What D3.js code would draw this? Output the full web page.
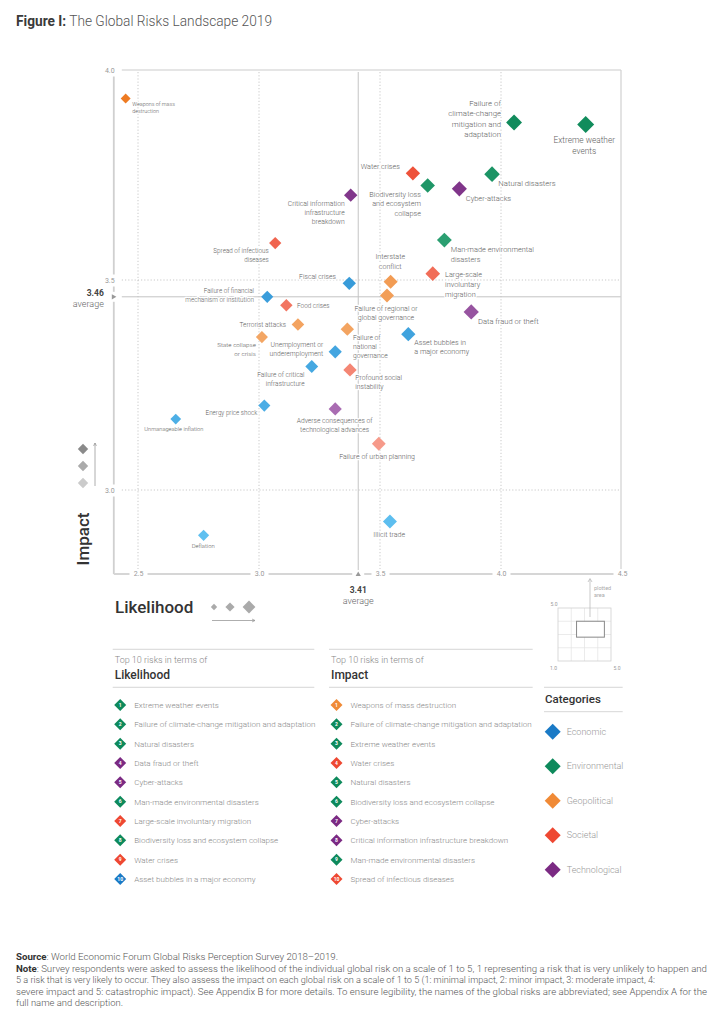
<!DOCTYPE html>
<html><head><meta charset="utf-8">
<script src="https://cdn.jsdelivr.net/npm/d3@7"></script>
<style>
body{margin:0;background:#fff;}
svg{display:block;font-family:Roboto,"Liberation Sans",Arial,sans-serif;}
</style></head><body>
<svg id="c" width="721" height="1024"></svg>
<script>
// ---------------- DATA ----------------
const risks = [
 "Weapons of mass destruction","Critical information infrastructure breakdown","Spread of infectious diseases",
 "Failure of climate-change mitigation and adaptation","Extreme weather events","Water crises",
 "Biodiversity loss and ecosystem collapse","Natural disasters","Cyber-attacks","Man-made environmental disasters",
 "Fiscal crises","Failure of financial mechanism or institution","Food crises","Terrorist attacks",
 "State collapse or crisis","Unemployment or underemployment","Failure of critical infrastructure",
 "Profound social instability","Energy price shock","Adverse consequences of technological advances",
 "Unmanageable inflation","Interstate conflict","Large-scale involuntary migration",
 "Failure of regional or global governance","Data fraud or theft","Failure of national governance",
 "Asset bubbles in a major economy","Failure of urban planning","Illicit trade","Deflation"];
const riskCategory = [
 "Geopolitical","Technological","Societal","Environmental","Environmental","Societal",
 "Environmental","Environmental","Technological","Environmental",
 "Economic","Economic","Societal","Geopolitical","Geopolitical","Economic","Economic",
 "Societal","Economic","Technological","Economic","Geopolitical","Societal",
 "Geopolitical","Technological","Geopolitical","Economic","Societal","Economic","Economic"];
const likelihood = [2.449,3.379,3.067,4.054,4.350,3.636,3.697,3.963,3.828,3.766,
 3.373,3.034,3.113,3.161,3.012,3.315,3.218,3.376,3.022,3.315,
 2.656,3.544,3.718,3.529,3.877,3.365,3.617,3.495,3.541,2.771];
const impact = [3.932,3.702,3.588,3.875,3.870,3.754,3.725,3.752,3.717,3.595,
 3.492,3.460,3.440,3.394,3.364,3.329,3.294,3.286,3.201,3.193,
 3.169,3.496,3.515,3.463,3.424,3.383,3.371,3.110,2.925,2.892];
const averageLikelihood = 3.41;
const averageImpact = 3.46;
const xTicks = [2.5,3.0,3.5,4.0,4.5];
const yTicks = [3.0,3.5,4.0];
const categoryNames = ["Economic","Environmental","Geopolitical","Societal","Technological"];
const top10Likelihood = ["Extreme weather events","Failure of climate-change mitigation and adaptation","Natural disasters",
 "Data fraud or theft","Cyber-attacks","Man-made environmental disasters","Large-scale involuntary migration",
 "Biodiversity loss and ecosystem collapse","Water crises","Asset bubbles in a major economy"];
const top10Impact = ["Weapons of mass destruction","Failure of climate-change mitigation and adaptation","Extreme weather events",
 "Water crises","Natural disasters","Biodiversity loss and ecosystem collapse","Cyber-attacks",
 "Critical information infrastructure breakdown","Man-made environmental disasters","Spread of infectious diseases"];

// ---------------- LABEL LAYOUT (placement only) ----------------
const labelLayout = {
 "Weapons of mass destruction":{l:["Weapons of mass","destruction"],a:"start",dx:6.6,dy:7.5},
 "Critical information infrastructure breakdown":{l:["Critical information","infrastructure","breakdown"],a:"end",dx:-6,dy:11},
 "Spread of infectious diseases":{l:["Spread of infectious","diseases"],a:"end",dx:-6.5,dy:10},
 "Failure of climate-change mitigation and adaptation":{l:["Failure of","climate-change","mitigation and","adaptation"],a:"end",dx:-13,dy:-16.7},
 "Extreme weather events":{l:["Extreme weather","events"],a:"middle",dx:-1.4,dy:18},
 "Water crises":{l:["Water crises"],a:"end",dx:-13,dy:-4.6},
 "Biodiversity loss and ecosystem collapse":{l:["Biodiversity loss","and ecosystem","collapse"],a:"end",dx:-6.7,dy:11},
 "Natural disasters":{l:["Natural disasters"],a:"start",dx:6.3,dy:12},
 "Cyber-attacks":{l:["Cyber-attacks"],a:"start",dx:6.4,dy:11.7},
 "Man-made environmental disasters":{l:["Man-made environmental","disasters"],a:"start",dx:6.4,dy:12},
 "Fiscal crises":{l:["Fiscal crises"],a:"end",dx:-13.3,dy:-4.6},
 "Failure of financial mechanism or institution":{l:["Failure of financial","mechanism or institution"],a:"end",dx:-13.3,dy:-3.4},
 "Food crises":{l:["Food crises"],a:"start",dx:10.7,dy:2.5},
 "Terrorist attacks":{l:["Terrorist attacks"],a:"end",dx:-12,dy:2},
 "State collapse or crisis":{l:["State collapse","or crisis"],a:"end",dx:-6,dy:10},
 "Unemployment or underemployment":{l:["Unemployment or","underemployment"],a:"end",dx:-12,dy:-4.4},
 "Failure of critical infrastructure":{l:["Failure of critical","infrastructure"],a:"end",dx:-7.2,dy:10.3},
 "Profound social instability":{l:["Profound social","instability"],a:"start",dx:5.3,dy:10.4},
 "Energy price shock":{l:["Energy price shock"],a:"end",dx:-7,dy:9.6},
 "Adverse consequences of technological advances":{l:["Adverse consequences of","technological advances"],a:"middle",dx:-0.6,dy:13.7},
 "Unmanageable inflation":{l:["Unmanageable inflation"],a:"middle",dx:-1.9,dy:12.3},
 "Interstate conflict":{l:["Interstate","conflict"],a:"middle",dx:-0.4,dy:-22.4},
 "Large-scale involuntary migration":{l:["Large-scale","involuntary","migration"],a:"start",dx:12.3,dy:3.3},
 "Failure of regional or global governance":{l:["Failure of regional or","global governance"],a:"middle",dx:-1,dy:15.3},
 "Data fraud or theft":{l:["Data fraud or theft"],a:"start",dx:6.7,dy:11.7},
 "Failure of national governance":{l:["Failure of","national","governance"],a:"start",dx:5.7,dy:11},
 "Asset bubbles in a major economy":{l:["Asset bubbles in","a major economy"],a:"start",dx:6,dy:10.7},
 "Failure of urban planning":{l:["Failure of urban planning"],a:"middle",dx:-1.7,dy:15},
 "Illicit trade":{l:["Illicit trade"],a:"middle",dx:-0.7,dy:15},
 "Deflation":{l:["Deflation"],a:"middle",dx:-0.4,dy:12.7}
};

// ---------------- STYLES ----------------
const catColor = {Economic:"#1a7ac6",Environmental:"#0e8a5c",Geopolitical:"#f08a36",Societal:"#ee4832",Technological:"#7b2a83"};
const shadeRange = {Economic:["#62c3f2","#1a7fc8"],Environmental:["#6fd2aa","#0a8656"],
 Geopolitical:["#f8cc9f","#ee7a20"],Societal:["#f9b7aa","#ec3c22"],Technological:["#c490cc","#6e1d78"]};

const data = risks.map((n,i)=>({name:n,cat:riskCategory[i],lx:likelihood[i],iy:impact[i]}));

const svg = d3.select("#c");
const x = d3.scaleLinear().domain([2.4,4.5]).range([113.8,622]);
const y = d3.scaleLinear().domain([2.8,4.0]).range([574,70]);
const rScale = d3.scaleLinear().domain([2.45,4.35]).range([5,8.5]);
const fScale = d3.scaleLinear().domain([2.45,4.35]).range([5.4,8.3]);
const tScale = d3.scaleLinear().domain([2.85,3.95]).range([0,1]).clamp(true);
const shade = d => d3.interpolateRgb(shadeRange[d.cat][0],shadeRange[d.cat][1])(tScale(d.iy));
const diamond = r => d3.symbol().type(d3.symbolSquare).size(2*r*r)();

// Title
const title = svg.append("text").attr("x",16).attr("y",26).attr("font-size",14.5).attr("fill","#555")
 .attr("textLength",256).attr("lengthAdjust","spacingAndGlyphs");
title.append("tspan").attr("font-weight",700).attr("fill","#3a3a3a").text("Figure I:");
title.append("tspan").attr("font-weight",300).text(" The Global Risks Landscape 2019");

// Plot frame & grid
const g = svg.append("g");
const X0 = x(2.4), X1 = x(4.5)-1, Y0 = y(4.0), Y1 = y(2.8);
g.selectAll(".vg").data(xTicks.filter(v=>v<4.5)).join("line")
 .attr("x1",d=>x(d)).attr("x2",d=>x(d)).attr("y1",Y0+2).attr("y2",Y1)
 .attr("stroke","#bbb").attr("stroke-width",0.8).attr("stroke-dasharray","1.2,2");
g.selectAll(".hg").data(yTicks.filter(v=>v<4.0)).join("line")
 .attr("x1",X0+8).attr("x2",X1).attr("y1",d=>y(d)).attr("y2",d=>y(d))
 .attr("stroke","#bbb").attr("stroke-width",0.8).attr("stroke-dasharray","1.2,2");
g.append("line").attr("x1",x(averageLikelihood)).attr("x2",x(averageLikelihood)).attr("y1",Y0+2).attr("y2",Y1)
 .attr("stroke","#c4c4c4").attr("stroke-width",1);
g.append("line").attr("x1",X0+8).attr("x2",X1).attr("y1",y(averageImpact)).attr("y2",y(averageImpact))
 .attr("stroke","#c4c4c4").attr("stroke-width",1);
g.append("line").attr("x1",X0+8).attr("x2",X1).attr("y1",Y0).attr("y2",Y0).attr("stroke","#dcdcdc").attr("stroke-width",1.6);
g.append("line").attr("x1",X1).attr("x2",X1).attr("y1",Y0).attr("y2",Y1).attr("stroke","#d0d0d0").attr("stroke-width",1.2);
g.append("line").attr("x1",X0).attr("x2",X0).attr("y1",Y0).attr("y2",Y1).attr("stroke","#d0d0d0").attr("stroke-width",1.8);
g.append("line").attr("x1",X0).attr("x2",X1).attr("y1",Y1).attr("y2",Y1).attr("stroke","#d6d6d6").attr("stroke-width",1.8);

// axes tick labels via d3.axis
const xa = svg.append("g").attr("transform",`translate(0,${Y1})`)
 .call(d3.axisBottom(x).tickValues(xTicks).tickSize(0).tickPadding(0).tickFormat(d3.format(".1f")));
xa.attr("font-family",null).attr("font-size",null);
xa.select(".domain").remove();
xa.selectAll(".tick").each(function(){
 const t=d3.select(this);
 t.insert("rect","text").attr("x",-9).attr("y",-5).attr("width",18).attr("height",10).attr("fill","#fff");
 t.select("text").attr("dy","0.35em").attr("y",0).attr("fill","#999").attr("font-size",7);
});
const ya = svg.append("g").attr("transform",`translate(${X0-4},0)`)
 .call(d3.axisLeft(y).tickValues(yTicks).tickSize(0).tickPadding(0).tickFormat(d3.format(".1f")));
ya.attr("font-family",null).attr("font-size",null);
ya.select(".domain").remove();
ya.selectAll(".tick").each(function(){
 const t=d3.select(this);
 t.insert("rect","text").attr("x",-9).attr("y",-6).attr("width",15).attr("height",12).attr("fill","#fff");
 t.select("text").attr("dy","0.35em").attr("x",0).attr("text-anchor","middle").attr("fill","#999").attr("font-size",7);
});

// average markers
const ax = x(averageLikelihood), ay = y(averageImpact);
svg.append("rect").attr("x",ax-6).attr("y",Y1-4).attr("width",12).attr("height",8).attr("fill","#fff");
svg.append("path").attr("d",`M${ax-2.6},${Y1+2} L${ax+2.6},${Y1+2} L${ax},${Y1-2.6}Z`).attr("fill","#999");
svg.append("rect").attr("x",X0-4).attr("y",ay-5).attr("width",8).attr("height",10).attr("fill","#fff");
svg.append("path").attr("d",`M${X0-2},${ay-2.6} L${X0-2},${ay+2.6} L${X0+2.6},${ay}Z`).attr("fill","#999");
svg.append("text").attr("x",ax).attr("y",Y1+19).attr("text-anchor","middle").attr("font-size",8.5).attr("font-weight",700).attr("fill","#444").text(averageLikelihood.toFixed(2));
svg.append("text").attr("x",ax).attr("y",Y1+30).attr("text-anchor","middle").attr("font-size",9).attr("font-weight",300).attr("fill","#666").text("average");
svg.append("text").attr("x",X0-10).attr("y",ay-0.5).attr("text-anchor","end").attr("font-size",8.5).attr("font-weight",700).attr("fill","#444").text(averageImpact.toFixed(2));
svg.append("text").attr("x",X0-10).attr("y",ay+10).attr("text-anchor","end").attr("font-size",9).attr("font-weight",300).attr("fill","#666").text("average");

// labels
const lab = svg.append("g");
data.forEach(d=>{
 const L = labelLayout[d.name]; const fs = fScale(d.lx); const lh = fs*1.28+0.4;
 const t = lab.append("text").attr("x",x(d.lx)+L.dx).attr("y",y(d.iy)+L.dy)
  .attr("text-anchor",L.a).attr("font-size",fs.toFixed(2)).attr("fill","#5e5e5e").attr("font-weight",300)
  .attr("stroke","#fff").attr("stroke-width",2.4).attr("stroke-linejoin","round").attr("paint-order","stroke");
 L.l.forEach((s,k)=>t.append("tspan").attr("x",x(d.lx)+L.dx).attr("dy",k?lh:0).text(s));
});

// points
svg.append("g").selectAll("path").data(data).join("path")
 .attr("d",d=>diamond(rScale(d.lx)))
 .attr("transform",d=>`translate(${x(d.lx)},${y(d.iy)}) rotate(45)`)
 .attr("fill",shade);

// axis titles
svg.append("text").attr("transform","translate(89,539) rotate(-90)").attr("text-anchor","middle")
 .attr("font-size",17).attr("font-weight",500).attr("fill","#333").text("Impact");
svg.append("text").attr("x",115).attr("y",613).attr("font-size",17).attr("font-weight",500).attr("fill","#333").text("Likelihood");

// impact legend (shade)
const greys = ["#8a8a8a","#ababab","#cbcbcb"];
[449,466,483].forEach((yy,i)=>svg.append("path").attr("d",diamond(5.2)).attr("transform",`translate(83,${yy}) rotate(45)`).attr("fill",greys[i]));
const arrow = (x1,y1,x2,y2)=>{
 svg.append("line").attr("x1",x1).attr("y1",y1).attr("x2",x2).attr("y2",y2).attr("stroke","#999").attr("stroke-width",0.8);
 const ang=Math.atan2(y2-y1,x2-x1);
 const p=(a,l)=>[x2-l*Math.cos(ang+a),y2-l*Math.sin(ang+a)];
 const a1=p(0.45,3.2),a2=p(-0.45,3.2);
 svg.append("path").attr("d",`M${a1}L${x2},${y2}L${a2}`).attr("fill","none").attr("stroke","#999").attr("stroke-width",0.8);
};
arrow(95,486,95,443);
[[214,3.2],[230,4.6],[249,6.4]].forEach(([xx,r])=>svg.append("path").attr("d",diamond(r)).attr("transform",`translate(${xx},607) rotate(45)`).attr("fill","#aaa"));
arrow(212,620.5,255,620.5);

// inset "plotted area"
const ix = d3.scaleLinear().domain([1,5]).range([558,611]);
const iy = d3.scaleLinear().domain([1,5]).range([661,608]);
const ins = svg.append("g");
[2,3,4].forEach(v=>{
 ins.append("line").attr("x1",ix(v)).attr("x2",ix(v)).attr("y1",iy(1)).attr("y2",iy(5)).attr("stroke","#e2e2e2").attr("stroke-width",0.7);
 ins.append("line").attr("y1",iy(v)).attr("y2",iy(v)).attr("x1",ix(1)).attr("x2",ix(5)).attr("stroke","#e2e2e2").attr("stroke-width",0.7);
});
ins.append("rect").attr("x",ix(1)).attr("y",iy(5)).attr("width",ix(5)-ix(1)).attr("height",iy(1)-iy(5)).attr("fill","none").attr("stroke","#d0d0d0").attr("stroke-width",0.8);
ins.append("rect").attr("x",ix(2.4)).attr("y",iy(4.0)).attr("width",ix(4.5)-ix(2.4)).attr("height",iy(2.8)-iy(4.0)).attr("fill","#fff").attr("stroke","#888").attr("stroke-width",1);
ins.append("text").attr("x",ix(1)-4).attr("y",iy(5)-2).attr("text-anchor","middle").attr("font-size",5).attr("fill","#999").text("5.0");
ins.append("text").attr("x",ix(1)-8).attr("y",iy(1)+9).attr("font-size",5).attr("fill","#999").text("1.0");
ins.append("text").attr("x",ix(5)+6).attr("y",iy(1)+9).attr("text-anchor","middle").attr("font-size",5).attr("fill","#999").text("5.0");
svg.append("line").attr("x1",590).attr("x2",590).attr("y1",617).attr("y2",579).attr("stroke","#bbb").attr("stroke-width",0.8);
svg.append("path").attr("d","M588,582L590,578.5L592,582").attr("fill","none").attr("stroke","#bbb").attr("stroke-width",0.8);
svg.append("text").attr("x",594).attr("y",590).attr("font-size",5.5).attr("fill","#aaa").text("plotted");
svg.append("text").attr("x",594).attr("y",597).attr("font-size",5.5).attr("fill","#aaa").text("area");

// top-10 lists
const catOf = n => riskCategory[risks.indexOf(n)];
function list(x0,x1,heading,items){
 const G = svg.append("g");
 G.append("line").attr("x1",x0).attr("x2",x1).attr("y1",649.3).attr("y2",649.3).attr("stroke","#ccc").attr("stroke-width",0.8);
 G.append("line").attr("x1",x0).attr("x2",x1).attr("y1",687.3).attr("y2",687.3).attr("stroke","#ccc").attr("stroke-width",0.8);
 G.append("text").attr("x",x0+2).attr("y",662.7).attr("font-size",9).attr("font-weight",300).attr("fill","#888").text("Top 10 risks in terms of");
 G.append("text").attr("x",x0+2).attr("y",678.5).attr("font-size",12).attr("font-weight",500).attr("fill","#333").text(heading);
 items.forEach((n,i)=>{
  const yy = 705+i*19.33;
  G.append("path").attr("d",diamond(6)).attr("transform",`translate(${x0+7.5},${yy}) rotate(45)`).attr("fill",catColor[catOf(n)]);
  G.append("text").attr("x",x0+7.5).attr("y",yy+1.8).attr("text-anchor","middle").attr("font-size",5).attr("font-weight",700).attr("fill","#fff").text(i+1);
  G.append("text").attr("x",x0+21.5).attr("y",yy+3).attr("font-size",8.05).attr("font-weight",300).attr("fill","#888").text(n);
 });
}
list(112.7,314.3,"Likelihood",top10Likelihood);
list(329,532.7,"Impact",top10Impact);

// categories legend
const C = svg.append("g");
C.append("line").attr("x1",544).attr("x2",622.7).attr("y1",687.3).attr("y2",687.3).attr("stroke","#ccc").attr("stroke-width",0.8);
C.append("line").attr("x1",544).attr("x2",622.7).attr("y1",711.7).attr("y2",711.7).attr("stroke","#ccc").attr("stroke-width",0.8);
C.append("text").attr("x",545).attr("y",702.7).attr("font-size",11.5).attr("font-weight",500).attr("fill","#333").text("Categories");
categoryNames.forEach((c,i)=>{
 const yy=731.7+i*34.5;
 C.append("path").attr("d",diamond(8)).attr("transform",`translate(552.7,${yy}) rotate(45)`).attr("fill",catColor[c]);
 C.append("text").attr("x",566.7).attr("y",yy+3.2).attr("font-size",9).attr("font-weight",300).attr("fill","#999").text(c);
});

// footer
const foot = [
 [["Source",1],[": World Economic Forum Global Risks Perception Survey 2018–2019.",0]],
 [["Note",1],[": Survey respondents were asked to assess the likelihood of the individual global risk on a scale of 1 to 5, 1 representing a risk that is very unlikely to happen and",0]],
 [["5 a risk that is very likely to occur. They also assess the impact on each global risk on a scale of 1 to 5 (1: minimal impact, 2: minor impact, 3: moderate impact, 4:",0]],
 [["severe impact and 5: catastrophic impact). See Appendix B for more details. To ensure legibility, the names of the global risks are abbreviated; see Appendix A for the",0]],
 [["full name and description.",0]]
];
const widths=[322,691,639,691,107];
foot.forEach((parts,i)=>{
 const t=svg.append("text").attr("x",16).attr("y",960+i*11.6).attr("font-size",8.6).attr("fill","#555").attr("font-weight",300)
  .attr("textLength",widths[i]).attr("lengthAdjust","spacingAndGlyphs");
 parts.forEach(([s,b])=>t.append("tspan").attr("font-weight",b?700:300).attr("fill",b?"#333":"#555").text(s));
});
</script>
</body></html>
